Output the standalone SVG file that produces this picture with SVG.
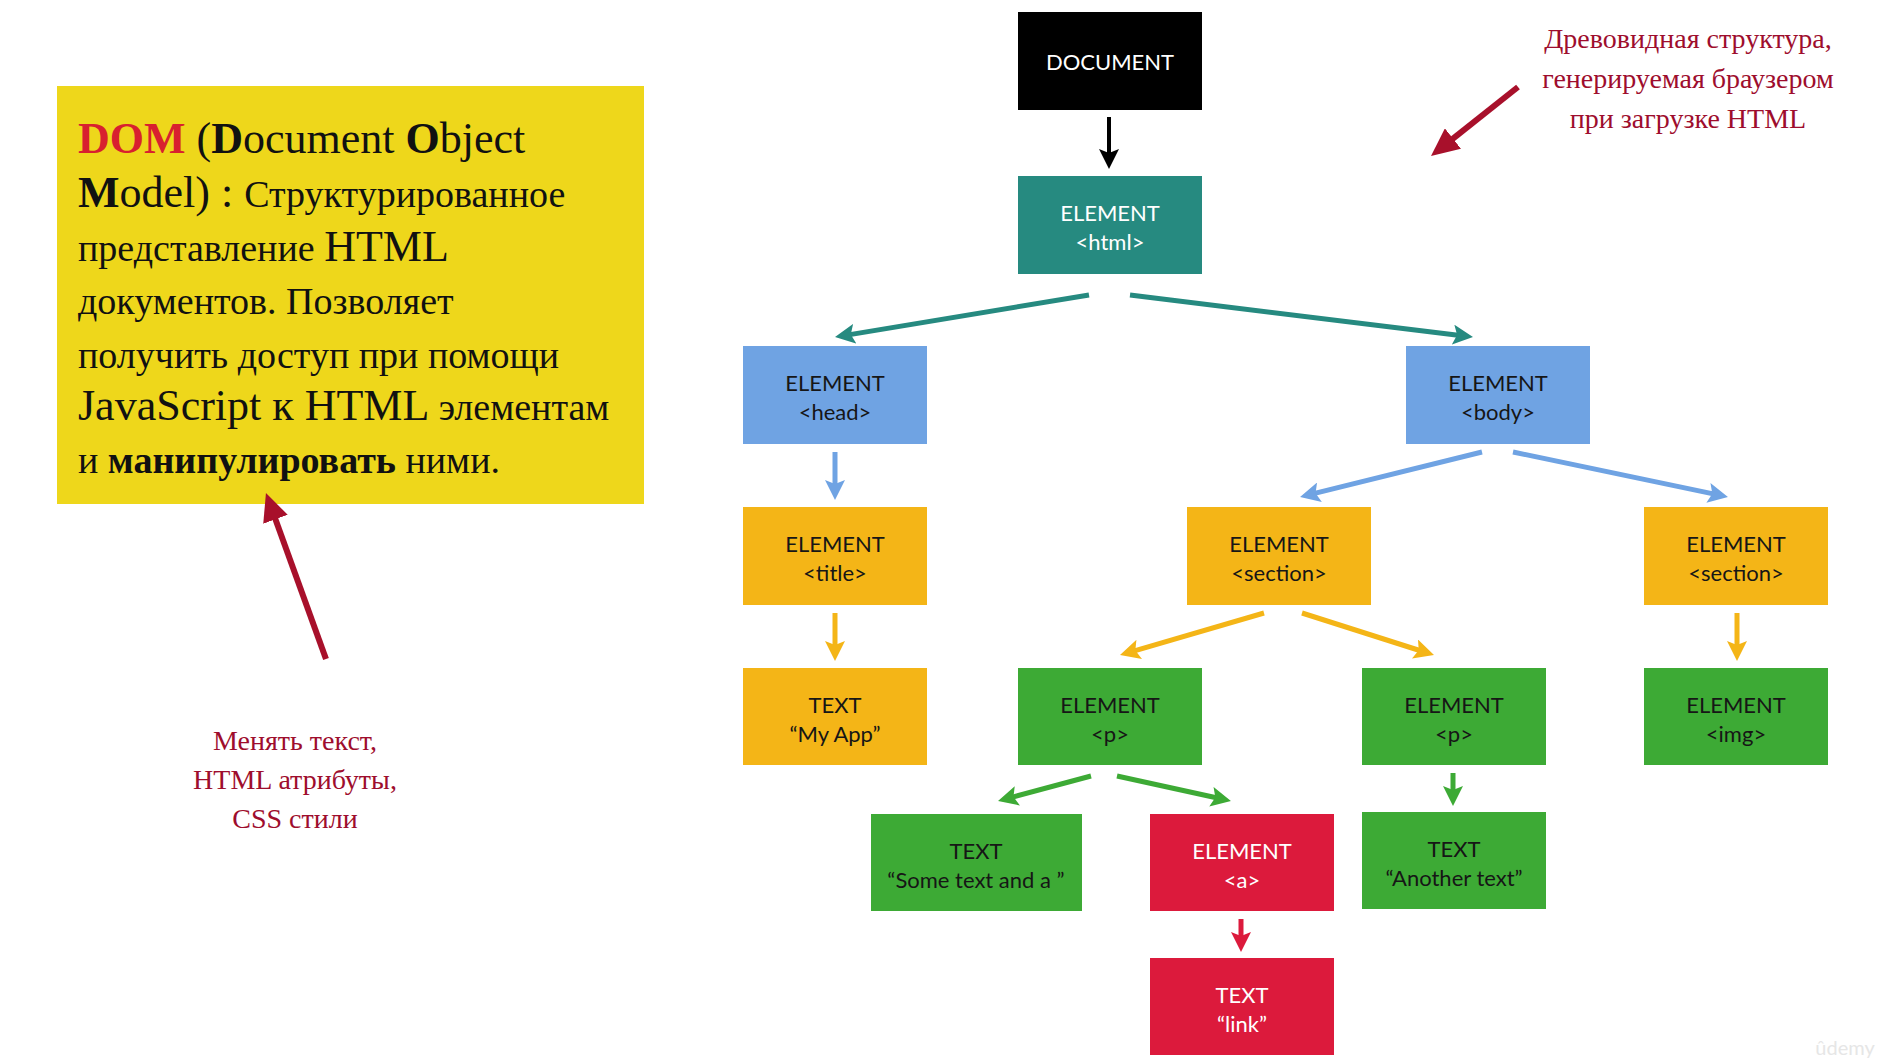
<svg xmlns="http://www.w3.org/2000/svg" width="1878" height="1064" viewBox="0 0 1878 1064">
<style>
.nt{font-family:Lato,"Noto Sans","DejaVu Sans",sans-serif;font-size:22px;text-anchor:middle}
.dk{fill:#161616}.wt{fill:#ffffff}
.c{fill:none;stroke-width:5}
.yt{font-family:"Liberation Serif","Times New Roman",serif;fill:#111}
.L{font-size:44px}.C{font-size:38px}
.b{font-weight:bold}
.ann{font-family:"Liberation Serif","Times New Roman",serif;font-size:28px;fill:#9e0d2d;text-anchor:middle}
</style>
<defs>
<marker id="mBlack" viewBox="0 0 20 20" markerWidth="20" markerHeight="20" refX="5" refY="10" orient="auto" markerUnits="userSpaceOnUse"><path d="M0,0 L20,10 L0,20 L4,10 z" fill="#000"/></marker>
<marker id="mTeal" viewBox="0 0 20 20" markerWidth="20" markerHeight="20" refX="5" refY="10" orient="auto" markerUnits="userSpaceOnUse"><path d="M0,0 L20,10 L0,20 L4,10 z" fill="#268a80"/></marker>
<marker id="mBlue" viewBox="0 0 20 20" markerWidth="20" markerHeight="20" refX="5" refY="10" orient="auto" markerUnits="userSpaceOnUse"><path d="M0,0 L20,10 L0,20 L4,10 z" fill="#6fa3e3"/></marker>
<marker id="mOrange" viewBox="0 0 20 20" markerWidth="20" markerHeight="20" refX="5" refY="10" orient="auto" markerUnits="userSpaceOnUse"><path d="M0,0 L20,10 L0,20 L4,10 z" fill="#f4b517"/></marker>
<marker id="mGreen" viewBox="0 0 20 20" markerWidth="20" markerHeight="20" refX="5" refY="10" orient="auto" markerUnits="userSpaceOnUse"><path d="M0,0 L20,10 L0,20 L4,10 z" fill="#3daa35"/></marker>
<marker id="mRed" viewBox="0 0 20 20" markerWidth="20" markerHeight="20" refX="5" refY="10" orient="auto" markerUnits="userSpaceOnUse"><path d="M0,0 L20,10 L0,20 L4,10 z" fill="#dc1a3c"/></marker>
<marker id="mAnn" viewBox="0 0 28 26" markerWidth="28" markerHeight="26" refX="2" refY="13" orient="auto" markerUnits="userSpaceOnUse"><path d="M0,0 L28,13 L0,26 z" fill="#a8102b"/></marker>
</defs>
<rect width="1878" height="1064" fill="#ffffff"/>

<g id="definition">
<rect x="57" y="86" width="587" height="418" fill="#eed71b"/>
<text class="yt" x="78" y="153"><tspan class="L b" fill="#d8202f">DOM</tspan><tspan class="L"> (</tspan><tspan class="L b">D</tspan><tspan class="L">ocument </tspan><tspan class="L b">O</tspan><tspan class="L">bject</tspan></text>
<text class="yt" x="78" y="207"><tspan class="L b">M</tspan><tspan class="L">odel) : </tspan><tspan class="C">Структурированное</tspan></text>
<text class="yt" x="78" y="261"><tspan class="C">представление </tspan><tspan class="L">HTML</tspan></text>
<text class="yt C" x="78" y="314">документов. Позволяет</text>
<text class="yt C" x="78" y="368">получить доступ при помощи</text>
<text class="yt" x="78" y="420"><tspan class="L">JavaScript к HTML </tspan><tspan class="C">элементам</tspan></text>
<text class="yt C" x="78" y="473">и <tspan class="b">манипулировать</tspan> ними.</text>
</g>

<g id="note-tree">
<text class="ann" x="1688" y="48">Древовидная структура,</text>
<text class="ann" x="1688" y="88">генерируемая браузером</text>
<text class="ann" x="1688" y="128">при загрузке HTML</text>
</g>
<g id="note-manipulate">
<text class="ann" x="295" y="750">Менять текст,</text>
<text class="ann" x="295" y="789">HTML атрибуты,</text>
<text class="ann" x="295" y="828">CSS стили</text>
</g>

<g id="connectors">
<line x1="1109" y1="117" x2="1109" y2="154" stroke="#000" stroke-width="4" marker-end="url(#mBlack)"/>
<line class="c" x1="1089" y1="295" x2="849.8" y2="334.6" stroke="#268a80" marker-end="url(#mTeal)"/>
<line class="c" x1="1130" y1="295" x2="1458.1" y2="335.2" stroke="#268a80" marker-end="url(#mTeal)"/>
<line class="c" x1="835" y1="452" x2="835" y2="485" stroke="#6fa3e3" marker-end="url(#mBlue)"/>
<line class="c" x1="1482" y1="452" x2="1314.6" y2="493.4" stroke="#6fa3e3" marker-end="url(#mBlue)"/>
<line class="c" x1="1513" y1="452" x2="1713.3" y2="493.9" stroke="#6fa3e3" marker-end="url(#mBlue)"/>
<line class="c" x1="835" y1="613" x2="835" y2="646" stroke="#f4b517" marker-end="url(#mOrange)"/>
<line class="c" x1="1264" y1="613" x2="1134.4" y2="650.8" stroke="#f4b517" marker-end="url(#mOrange)"/>
<line class="c" x1="1302" y1="613" x2="1419.7" y2="650.5" stroke="#f4b517" marker-end="url(#mOrange)"/>
<line class="c" x1="1737" y1="613" x2="1737" y2="646" stroke="#f4b517" marker-end="url(#mOrange)"/>
<line class="c" x1="1091" y1="776" x2="1012.5" y2="797.1" stroke="#3daa35" marker-end="url(#mGreen)"/>
<line class="c" x1="1117" y1="776" x2="1216.3" y2="797.8" stroke="#3daa35" marker-end="url(#mGreen)"/>
<line class="c" x1="1453" y1="773" x2="1453" y2="791" stroke="#3daa35" marker-end="url(#mGreen)"/>
<line class="c" x1="1241" y1="919" x2="1241" y2="937" stroke="#dc1a3c" marker-end="url(#mRed)"/>
<line x1="1518" y1="87" x2="1451.4" y2="139.8" stroke="#a8102b" stroke-width="6" marker-end="url(#mAnn)"/>
<line x1="326" y1="659" x2="274.8" y2="517.4" stroke="#a8102b" stroke-width="6" marker-end="url(#mAnn)"/>
</g>

<g id="n-document"><rect x="1018" y="12" width="184" height="98" fill="#000"/><text class="nt wt" x="1110" y="70">DOCUMENT</text></g>
<g id="n-html"><rect x="1018" y="176" width="184" height="98" fill="#268a80"/><text class="nt wt" x="1110" y="221">ELEMENT</text><text class="nt wt" x="1110" y="250">&lt;html&gt;</text></g>
<g id="n-head"><rect x="743" y="346" width="184" height="98" fill="#6fa3e3"/><text class="nt dk" x="835" y="391">ELEMENT</text><text class="nt dk" x="835" y="420">&lt;head&gt;</text></g>
<g id="n-body"><rect x="1406" y="346" width="184" height="98" fill="#6fa3e3"/><text class="nt dk" x="1498" y="391">ELEMENT</text><text class="nt dk" x="1498" y="420">&lt;body&gt;</text></g>
<g id="n-title"><rect x="743" y="507" width="184" height="98" fill="#f4b517"/><text class="nt dk" x="835" y="552">ELEMENT</text><text class="nt dk" x="835" y="581">&lt;title&gt;</text></g>
<g id="n-section1"><rect x="1187" y="507" width="184" height="98" fill="#f4b517"/><text class="nt dk" x="1279" y="552">ELEMENT</text><text class="nt dk" x="1279" y="581">&lt;section&gt;</text></g>
<g id="n-section2"><rect x="1644" y="507" width="184" height="98" fill="#f4b517"/><text class="nt dk" x="1736" y="552">ELEMENT</text><text class="nt dk" x="1736" y="581">&lt;section&gt;</text></g>
<g id="n-myapp"><rect x="743" y="668" width="184" height="97" fill="#f4b517"/><text class="nt dk" x="835" y="713">TEXT</text><text class="nt dk" x="835" y="742">“My App”</text></g>
<g id="n-p1"><rect x="1018" y="668" width="184" height="97" fill="#3daa35"/><text class="nt dk" x="1110" y="713">ELEMENT</text><text class="nt dk" x="1110" y="742">&lt;p&gt;</text></g>
<g id="n-p2"><rect x="1362" y="668" width="184" height="97" fill="#3daa35"/><text class="nt dk" x="1454" y="713">ELEMENT</text><text class="nt dk" x="1454" y="742">&lt;p&gt;</text></g>
<g id="n-img"><rect x="1644" y="668" width="184" height="97" fill="#3daa35"/><text class="nt dk" x="1736" y="713">ELEMENT</text><text class="nt dk" x="1736" y="742">&lt;img&gt;</text></g>
<g id="n-sometext"><rect x="871" y="814" width="211" height="97" fill="#3daa35"/><text class="nt dk" x="976" y="859">TEXT</text><text class="nt dk" x="976" y="888">“Some text and a ”</text></g>
<g id="n-a"><rect x="1150" y="814" width="184" height="97" fill="#dc1a3c"/><text class="nt wt" x="1242" y="859">ELEMENT</text><text class="nt wt" x="1242" y="888">&lt;a&gt;</text></g>
<g id="n-another"><rect x="1362" y="812" width="184" height="97" fill="#3daa35"/><text class="nt dk" x="1454" y="857">TEXT</text><text class="nt dk" x="1454" y="886">“Another text”</text></g>
<g id="n-link"><rect x="1150" y="958" width="184" height="97" fill="#dc1a3c"/><text class="nt wt" x="1242" y="1003">TEXT</text><text class="nt wt" x="1242" y="1032">“link”</text></g>

<text x="1845" y="1055" font-family="Lato,'Noto Sans',sans-serif" font-size="20" fill="#e6e6e6" text-anchor="middle">ûdemy</text>
</svg>
